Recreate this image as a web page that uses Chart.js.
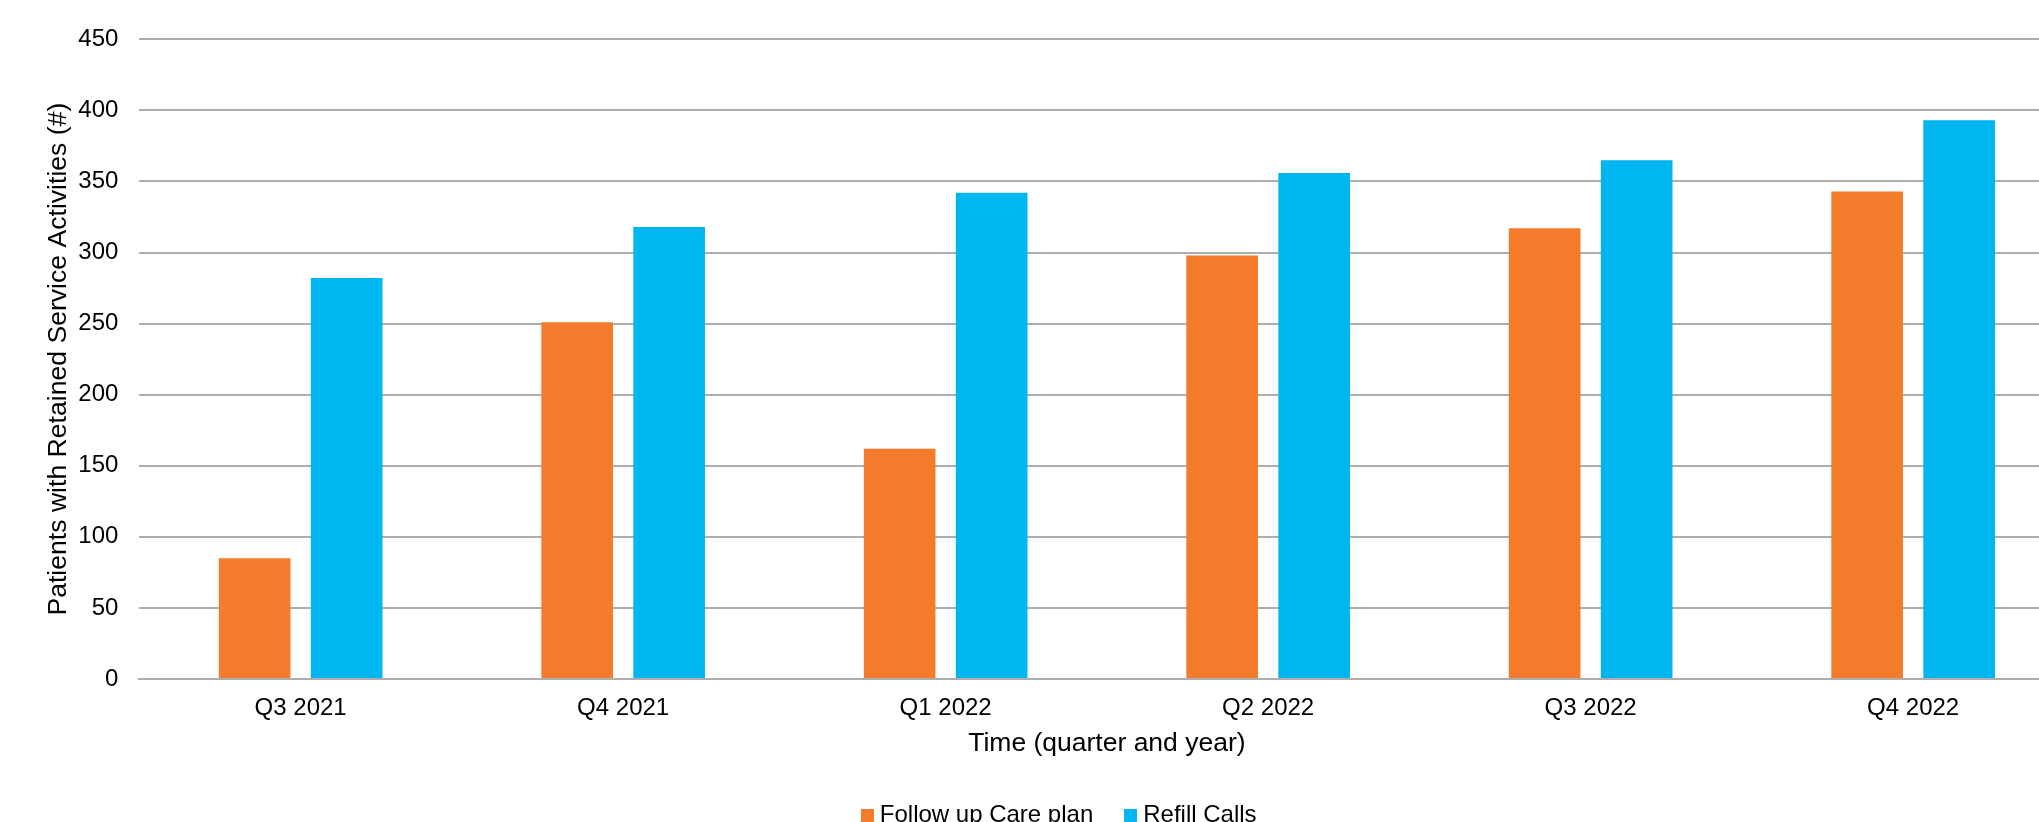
<!DOCTYPE html>
<html>
<head>
<meta charset="utf-8">
<script src="https://cdn.jsdelivr.net/npm/chart.js@4/dist/chart.umd.min.js"></script>
<style>
  html, body { margin: 0; padding: 0; background: #fff; overflow: hidden; }
  .chart_wrapper { width: 2120px; height: 837px; }
</style>
</head>
<body>
<div class="chart_wrapper"><canvas id="Bar_Chart"></canvas></div>
<script>
var quarters = ["Q3 2021", "Q4 2021", "Q1 2022", "Q2 2022", "Q3 2022", "Q4 2022"];
var followUpCarePlan = [85, 251, 162, 298, 317, 343];
var refillCalls = [282, 318, 342, 356, 365, 393];
var yTicks = [0, 50, 100, 150, 200, 250, 300, 350, 400, 450];
var seriesColors = ['#F47B2C', '#00B6F0'];

Chart.defaults.font.family = "'Liberation Sans', Arial, sans-serif";
Chart.defaults.color = '#000';

// small square legend swatches (drawn as point style so the text sits close)
function makeSwatch(color) {
  var c = document.createElement('canvas');
  c.width = 13;
  c.height = 13;
  var g = c.getContext('2d');
  g.fillStyle = color;
  g.fillRect(0, 0, 13, 13);
  return c;
}
var swatches = seriesColors.map(makeSwatch);

var ctx = document.getElementById("Bar_Chart");
var myBarChart = new Chart(ctx, {
  type: 'bar',
  data: {
    labels: quarters,
    datasets: [{
      label: 'Follow up Care plan',
      data: followUpCarePlan,
      backgroundColor: seriesColors[0],
      borderWidth: 0
    }, {
      label: 'Refill Calls',
      data: refillCalls,
      backgroundColor: seriesColors[1],
      borderWidth: 0
    }]
  },
  options: {
    responsive: true,
    maintainAspectRatio: false,
    animation: false,
    categoryPercentage: 0.5705,
    barPercentage: 0.779,
    layout: {
      padding: { top: 39.3, left: 49, right: 45.6, bottom: 0 }
    },
    scales: {
      x: {
        afterFit: function(axis) { axis.height = 87; },
        grid: { display: false, drawTicks: false },
        border: { color: '#adadad', width: 2 },
        ticks: { font: { size: 24 }, padding: 15 },
        title: {
          display: true,
          text: 'Time (quarter and year)',
          font: { size: 26.5 },
          padding: { top: 0, bottom: 6 }
        }
      },
      y: {
        min: 0,
        max: 450,
        afterFit: function(axis) { axis.width = 90.4; },
        afterBuildTicks: function(axis) {
          axis.ticks = yTicks.map(function(v) { return { value: v }; });
        },
        grid: { color: '#adadad', lineWidth: 2, drawTicks: false },
        border: { display: false },
        ticks: { font: { size: 24 }, padding: 21 },
        title: {
          display: true,
          text: 'Patients with Retained Service Activities (#)',
          font: { size: 26.6 },
          padding: { top: -6, bottom: 0 }
        }
      }
    },
    plugins: {
      legend: {
        position: 'bottom',
        labels: {
          usePointStyle: true,
          pointStyleWidth: 1,
          boxWidth: 1,
          boxHeight: 13,
          font: { size: 24 },
          padding: 37,
          generateLabels: function(chart) {
            var items = Chart.defaults.plugins.legend.labels.generateLabels(chart);
            items.forEach(function(it, i) { it.pointStyle = swatches[i]; });
            return items;
          }
        }
      },
      tooltip: { enabled: false }
    }
  }
});
</script>
</body>
</html>
